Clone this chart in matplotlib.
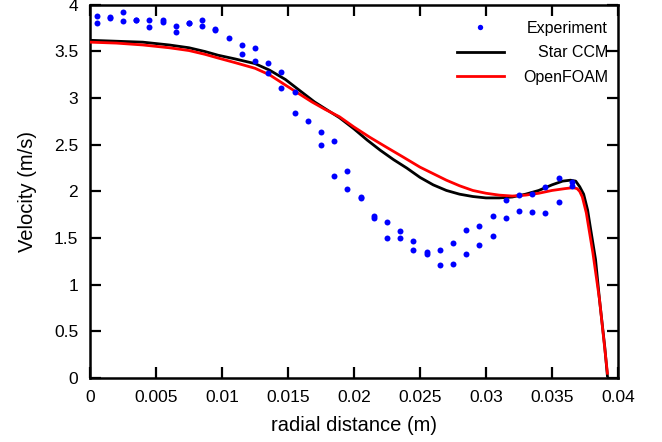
import matplotlib
matplotlib.use("Agg")
import matplotlib.pyplot as plt
from matplotlib.ticker import FormatStrFormatter, MultipleLocator

plt.rcParams['font.family'] = ['Liberation Sans', 'DejaVu Sans']

# experiment: two readings at each radial station
exp_x = [0.0005, 0.0005, 0.0015, 0.0015, 0.0025, 0.0025, 0.0035, 0.0035,
         0.0045, 0.0045, 0.0055, 0.0055, 0.0065, 0.0065, 0.0075, 0.0075,
         0.0085, 0.0085, 0.0095, 0.0095, 0.0105, 0.0115, 0.0115, 0.0125,
         0.0125, 0.0135, 0.0135, 0.0145, 0.0145, 0.0155, 0.0155, 0.0165,
         0.0175, 0.0175, 0.0185, 0.0185, 0.0195, 0.0195, 0.0205, 0.0205,
         0.0215, 0.0215, 0.0225, 0.0225, 0.0235, 0.0235, 0.0245, 0.0245,
         0.0255, 0.0255, 0.0265, 0.0265, 0.0275, 0.0275, 0.0285, 0.0285,
         0.0295, 0.0295, 0.0305, 0.0305, 0.0315, 0.0315, 0.0325, 0.0325,
         0.0335, 0.0335, 0.0345, 0.0345, 0.0355, 0.0355, 0.0365, 0.0365]
exp_v = [3.88, 3.81, 3.87, 3.86, 3.92, 3.83, 3.84, 3.84,
         3.84, 3.76, 3.84, 3.82, 3.77, 3.71, 3.81, 3.81,
         3.84, 3.77, 3.74, 3.73, 3.64, 3.57, 3.47, 3.54,
         3.40, 3.38, 3.27, 3.28, 3.11, 3.07, 2.84, 2.76,
         2.64, 2.50, 2.54, 2.16, 2.22, 2.03, 1.94, 1.93,
         1.74, 1.71, 1.67, 1.50, 1.58, 1.50, 1.47, 1.37,
         1.35, 1.33, 1.37, 1.21, 1.45, 1.22, 1.59, 1.33,
         1.63, 1.43, 1.74, 1.52, 1.91, 1.71, 1.96, 1.79,
         1.97, 1.78, 2.05, 1.77, 2.14, 1.89, 2.10, 2.06]

star_x = [0.0, 0.002, 0.004, 0.006, 0.0075, 0.0087, 0.0097, 0.011, 0.0125,
          0.0136, 0.0148, 0.0159, 0.017, 0.018, 0.0189, 0.02, 0.021, 0.022,
          0.023, 0.024, 0.025, 0.026, 0.027, 0.028, 0.029, 0.030, 0.031,
          0.032, 0.033, 0.034, 0.035, 0.0358, 0.0364, 0.0368, 0.0371, 0.0374,
          0.0377, 0.0379, 0.0383, 0.0386, 0.039, 0.0392]
star_v = [3.62, 3.61, 3.60, 3.57, 3.54, 3.50, 3.46, 3.42, 3.37,
          3.30, 3.20, 3.08, 2.96, 2.87, 2.79, 2.67, 2.55, 2.44,
          2.34, 2.25, 2.15, 2.07, 2.01, 1.97, 1.945, 1.93, 1.93,
          1.94, 1.97, 2.01, 2.07, 2.11, 2.12, 2.11, 2.05, 1.97,
          1.80, 1.62, 1.27, 0.84, 0.33, 0.02]

foam_x = [0.0, 0.002, 0.004, 0.006, 0.0075, 0.0087, 0.0097, 0.011, 0.0125,
          0.0136, 0.0148, 0.0158, 0.0168, 0.0178, 0.0189, 0.02, 0.0212, 0.0225,
          0.0237, 0.025, 0.026, 0.027, 0.028, 0.029, 0.030, 0.031, 0.032,
          0.033, 0.034, 0.035, 0.036, 0.0366, 0.0369, 0.0371, 0.0373, 0.0376,
          0.0381, 0.0386, 0.0392]
foam_v = [3.60, 3.59, 3.57, 3.54, 3.51, 3.47, 3.43, 3.38, 3.32,
          3.25, 3.14, 3.05, 2.96, 2.88, 2.80, 2.69, 2.58, 2.47,
          2.37, 2.26, 2.19, 2.12, 2.06, 2.01, 1.98, 1.96, 1.95,
          1.96, 1.98, 2.01, 2.03, 2.04, 2.03, 2.00, 1.94, 1.77,
          1.34, 0.84, 0.05]

fig = plt.figure(figsize=(6.62, 4.42), dpi=100)
ax = fig.add_axes([0.136, 0.145, 0.7975, 0.844])

l_star, = ax.plot(star_x, star_v, color='black', lw=2.0, zorder=2, label='Star CCM')
l_foam, = ax.plot(foam_x, foam_v, color='red', lw=2.0, zorder=3, label='OpenFOAM')
l_exp, = ax.plot(exp_x, exp_v, 'o', color='#0000ff', ms=4.3, mec='none', zorder=4,
                 label='Experiment')

ax.set_xlim(0, 0.04)
ax.set_ylim(0, 4)
ax.xaxis.set_major_locator(MultipleLocator(0.005))
ax.yaxis.set_major_locator(MultipleLocator(0.5))
ax.xaxis.set_major_formatter(FormatStrFormatter('%g'))
ax.yaxis.set_major_formatter(FormatStrFormatter('%g'))
ax.tick_params(direction='in', top=True, right=True, length=8, width=1.6,
               labelsize=12.5, pad=8.5)
for s in ax.spines.values():
    s.set_linewidth(1.8)

ax.set_xlabel('radial distance (m)', fontsize=14.5, labelpad=8)
ax.set_ylabel('Velocity (m/s)', fontsize=14.5, labelpad=12)

leg = ax.legend(handles=[l_exp, l_star, l_foam], loc='upper right',
                bbox_to_anchor=(0.981, 0.958), frameon=False, fontsize=11.5,
                numpoints=1, handlelength=2.9, handletextpad=1.2,
                labelspacing=0.6, borderpad=0, borderaxespad=0, markerscale=0.9)

# right-align the legend labels: nudge each shorter label to the right
fig.canvas.draw()
r = fig.canvas.get_renderer()
widths = [t.get_window_extent(r).width for t in leg.get_texts()]
maxw = max(widths)
for t, w in zip(leg.get_texts(), widths):
    t.set_position((maxw - w, 0))

fig.savefig('out.png', dpi=100)
